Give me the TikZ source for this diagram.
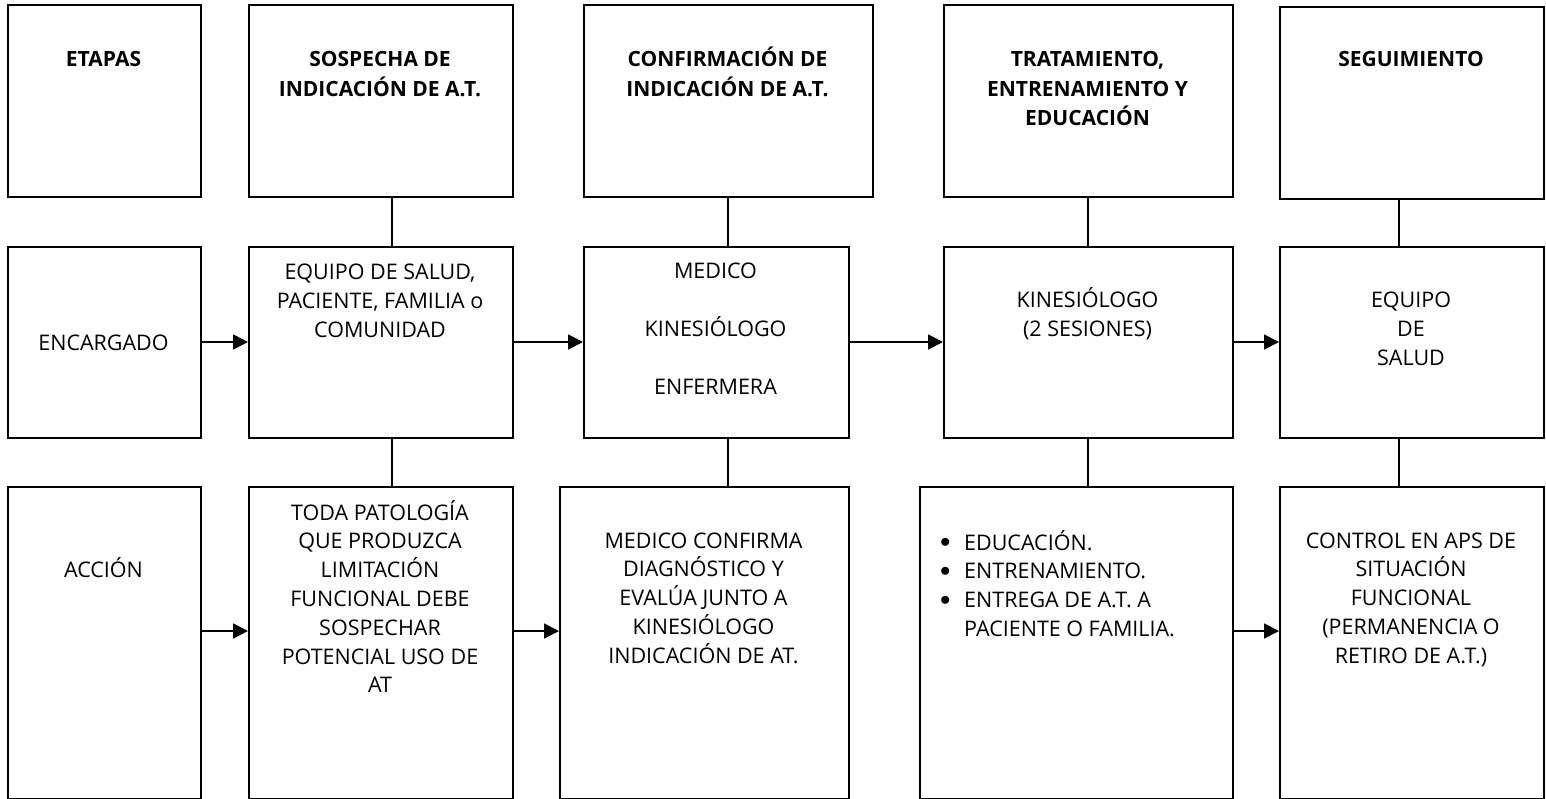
\documentclass[tikz,border=0pt]{standalone}
\usepackage{fontspec}
\setmainfont{Open Sans}
\usetikzlibrary{arrows.meta}
\newcommand\txtfont{\fontsize{21.5}{28.8}\selectfont}
\newcommand\hdfont{\fontsize{21}{29.3}\selectfont\bfseries}
\newcommand\stack[1]{\begin{tabular}[t]{@{}c@{}}#1\end{tabular}}
\newcommand\bx[5]{\node[box,minimum width={#4pt-#2pt},minimum height={#5pt-#3pt}] (#1) at (#2,#3) {};}
\newcommand\blt{\makebox[28.5pt][l]{\makebox[19pt]{\raisebox{2.5pt}{$\bullet$}}}}
\begin{document}
\begin{tikzpicture}[x=1pt,y=-1pt,
  box/.style={draw,line width=2pt,inner sep=0pt,anchor=north west},
  hd/.style={inner sep=0pt,anchor=base,font=\hdfont},
  tx/.style={inner sep=0pt,anchor=base,font=\txtfont},
  link/.style={line width=1.7pt},
  arr/.style={line width=1.7pt,-{Triangle[length=15pt,width=15pt]}}]
\useasboundingbox (0,0) rectangle (1546,799);
% top row
\bx{T0}{7}{4}{200}{196}
\bx{T1}{248}{4}{512}{196}
\bx{T2}{583}{4}{872}{196}
\bx{T3}{943}{4}{1232}{196}
\bx{T4}{1279}{6}{1543}{198}
% middle row
\bx{M0}{7}{246}{200}{437}
\bx{M1}{248}{246}{512}{437}
\bx{M2}{583}{246}{848}{437}
\bx{M3}{943}{246}{1232}{437}
\bx{M4}{1279}{246}{1543}{437}
% bottom row
\bx{B0}{7}{486}{200}{798}
\bx{B1}{248}{486}{512}{798}
\bx{B2}{559}{486}{848}{798}
\bx{B3}{919}{486}{1232}{798}
\bx{B4}{1279}{486}{1543}{798}
% headings
\node[hd] (h0) at (103.5,67) {\stack{ETAPAS}};
\node[hd] (h1) at (380,67) {\stack{SOSPECHA DE\\INDICACIÓN DE A.T.}};
\node[hd] (h2) at (727.5,67) {\stack{CONFIRMACIÓN DE\\INDICACIÓN DE A.T.}};
\node[hd] (h3) at (1087.5,67) {\stack{TRATAMIENTO,\\ENTRENAMIENTO Y\\EDUCACIÓN}};
\node[hd] (h4) at (1411,67) {\stack{SEGUIMIENTO}};
% middle texts
\node[tx] (m0) at (103.5,350) {\stack{ENCARGADO}};
\node[tx] (m1) at (380,280) {\stack{EQUIPO DE SALUD,\\PACIENTE, FAMILIA o\\COMUNIDAD}};
\node[tx] (m2) at (715.5,279) {\stack{MEDICO\\[28.8pt]KINESIÓLOGO\\[28.8pt]ENFERMERA}};
\node[tx] (m3) at (1087.5,308) {\stack{KINESIÓLOGO\\(2 SESIONES)}};
\node[tx] (m4) at (1411,308) {\stack{EQUIPO\\DE\\SALUD}};
% bottom texts
\node[tx] (b0) at (103.5,577) {\stack{ACCIÓN}};
\node[tx] (b1) at (380,520) {\stack{TODA PATOLOGÍA\\QUE PRODUZCA\\LIMITACIÓN\\FUNCIONAL DEBE\\SOSPECHAR\\POTENCIAL USO DE\\AT}};
\node[tx] (b2) at (703.5,548) {\stack{MEDICO CONFIRMA\\DIAGNÓSTICO Y\\EVALÚA JUNTO A\\KINESIÓLOGO\\INDICACIÓN DE AT.}};
\node[tx,anchor=base west] (b3) at (935.5,550) {\begin{tabular}[t]{@{}l@{}l@{}}
\blt & EDUCACIÓN.\\
\blt & ENTRENAMIENTO.\\
\blt & ENTREGA DE A.T. A\\
 & PACIENTE O FAMILIA.\end{tabular}};
\node[tx] (b4) at (1411,548) {\stack{CONTROL EN APS DE\\SITUACIÓN\\FUNCIONAL\\(PERMANENCIA O\\RETIRO DE A.T.)}};
% vertical links
\coordinate (v1) at (392,0);
\coordinate (v2) at (728,0);
\coordinate (v3) at (1088,0);
\coordinate (v4) at (1399,0);
\draw[link] (v1 |- T1.south) -- (v1 |- M1.north);
\draw[link] (v1 |- M1.south) -- (v1 |- B1.north);
\draw[link] (v2 |- T2.south) -- (v2 |- M2.north);
\draw[link] (v2 |- M2.south) -- (v2 |- B2.north);
\draw[link] (v3 |- T3.south) -- (v3 |- M3.north);
\draw[link] (v3 |- M3.south) -- (v3 |- B3.north);
\draw[link] (v4 |- T4.south) -- (v4 |- M4.north);
\draw[link] (v4 |- M4.south) -- (v4 |- B4.north);
% arrows
\coordinate (r2) at (0,342);
\coordinate (r3) at (0,631);
\draw[arr] (M0.east |- r2) -- (M1.west |- r2);
\draw[arr] (M1.east |- r2) -- (M2.west |- r2);
\draw[arr] (M2.east |- r2) -- (M3.west |- r2);
\draw[arr] (M3.east |- r2) -- (M4.west |- r2);
\draw[arr] (B0.east |- r3) -- (B1.west |- r3);
\draw[arr] (B1.east |- r3) -- (B2.west |- r3);
\draw[arr] (B3.east |- r3) -- (B4.west |- r3);
\end{tikzpicture}
\end{document}
